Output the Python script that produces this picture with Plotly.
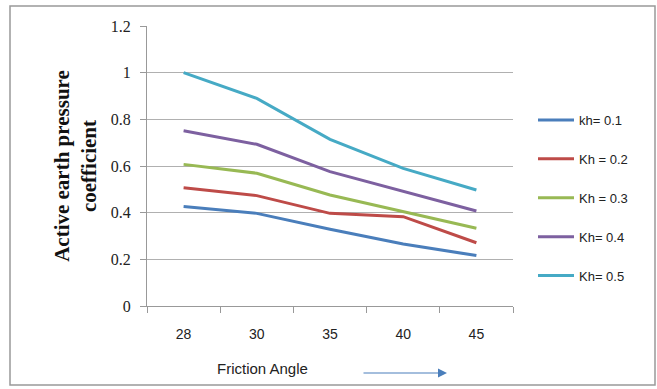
import plotly.graph_objects as go

angles = ["28", "30", "35", "40", "45"]
kh01 = [0.426, 0.397, 0.329, 0.266, 0.216]
kh02 = [0.507, 0.473, 0.397, 0.383, 0.271]
kh03 = [0.607, 0.569, 0.476, 0.404, 0.333]
kh04 = [0.751, 0.693, 0.576, 0.490, 0.407]
kh05 = [1.000, 0.890, 0.714, 0.590, 0.497]
names = ["kh= 0.1", "Kh = 0.2", "Kh = 0.3", "Kh= 0.4", "Kh= 0.5"]
colors = ["#4A7EBB", "#BE4B48", "#98B954", "#7D60A0", "#46AAC5"]
yticks = [0, 0.2, 0.4, 0.6, 0.8, 1, 1.2]

W, H = 657, 389
L, R, T, B = 147, 144, 26, 83
pw, ph = W - L - R, H - T - B

def px(x):
    return (x - L) / pw

def py(y):
    return (H - B - y) / ph

fig = go.Figure()
for i, (vals, n, c) in enumerate(zip([kh01, kh02, kh03, kh04, kh05], names, colors)):
    fig.add_trace(go.Scatter(x=angles, y=vals, name=n, mode="lines",
                             line=dict(color=c, width=3), legendgroup=str(i)))

fig.update_layout(
    width=W, height=H,
    margin=dict(l=L, r=R, t=T, b=B),
    paper_bgcolor="white", plot_bgcolor="white",
    showlegend=True,
    legend=dict(x=px(533), y=py(105), xanchor="left", yanchor="top",
                font=dict(family="Liberation Sans, Arial", size=13, color="#222"),
                tracegroupgap=19, itemwidth=36, bgcolor="rgba(0,0,0,0)"),
    xaxis=dict(type="category", range=[-0.5, 4.5], showline=True, linecolor="#999", linewidth=1,
               ticks="outside", tickson="boundaries", ticklen=6, tickcolor="#999",
               ticklabelstandoff=15,
               tickfont=dict(family="Liberation Sans, Arial", size=14, color="#222"),
               showgrid=False),
    yaxis=dict(range=[0, 1.2], tickvals=yticks, ticktext=["0", "0.2", "0.4", "0.6", "0.8", "1", "1.2"],
               showline=True, linecolor="#999", linewidth=1,
               ticks="outside", ticklen=6, tickcolor="#999",
               ticklabelstandoff=6,
               gridcolor="#B0B0B0", gridwidth=1, zeroline=False,
               tickfont=dict(family="Liberation Serif, Times New Roman", size=16, color="#222"),
               title=dict(text="<b>Active earth pressure<br>coefficient</b>",
                          font=dict(family="Liberation Serif, Times New Roman", size=21, color="#111"),
                          standoff=8)),
)

fig.add_annotation(text="Friction Angle", x=px(262), y=py(368), xref="paper", yref="paper",
                   yanchor="middle", xanchor="center",
                   showarrow=False, font=dict(family="Liberation Sans, Arial", size=15, color="#222"))
fig.add_annotation(x=px(447), y=py(373), ax=-85, ay=0, xref="paper", yref="paper",
                   axref="pixel", ayref="pixel", text="", showarrow=True,
                   arrowhead=2, arrowsize=1.5, arrowwidth=1.2, arrowcolor="#4A7EBB")
fig.add_shape(type="rect", xref="paper", yref="paper",
              x0=px(10), x1=px(655), y0=py(385), y1=py(6),
              line=dict(color="#999", width=1.5))

fig.write_html("out.html")
